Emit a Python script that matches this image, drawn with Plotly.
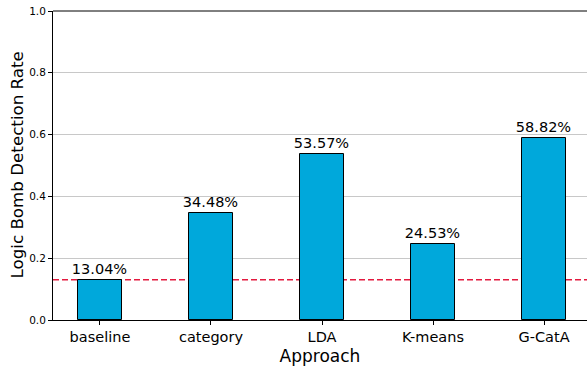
import plotly.graph_objects as go

categories = ["baseline", "category", "LDA", "K-means", "G-CatA"]
rates = [0.1304, 0.3448, 0.5357, 0.2453, 0.5882]
baseline_rate = 0.1304
y_ticks = [0.0, 0.2, 0.4, 0.6, 0.8, 1.0]

labels = [f"{v*100:.2f}%" for v in rates]
xs = list(range(len(categories)))

fig = go.Figure()
fig.add_trace(go.Bar(
    x=xs, y=rates, width=0.4,
    marker=dict(color="#00A8DB", line=dict(color="black", width=1)),
    text=labels, textposition="outside", cliponaxis=False, constraintext="none",
    textfont=dict(size=14.5, color="black", family="DejaVu Sans"),
))

fig.add_shape(type="line", xref="paper", x0=0, x1=1, yref="y", y0=baseline_rate, y1=baseline_rate,
              line=dict(color="#E31A3F", width=1.5, dash="6px,3px"), layer="below")
# top spine
fig.add_shape(type="line", xref="paper", x0=0, x1=1, yref="paper", y0=1, y1=1,
              line=dict(color="black", width=1), layer="above")

fig.add_annotation(text="Logic Bomb Detection Rate", xref="paper", yref="paper",
                   x=0, y=0.5, xanchor="center", yanchor="middle", xshift=-37,
                   textangle=-90, showarrow=False,
                   font=dict(size=16.7, family="DejaVu Sans", color="black"))

fig.update_layout(
    width=587, height=367,
    margin=dict(l=53, r=0, t=11, b=47),
    plot_bgcolor="white", paper_bgcolor="white",
    font=dict(family="DejaVu Sans", color="black"),
    showlegend=False,
    xaxis=dict(
        range=[-0.423, 4.387],
        tickmode="array", tickvals=xs, ticktext=categories,
        tickfont=dict(size=14.5),
        ticks="outside", ticklen=4, tickcolor="black",
        showline=True, linecolor="black", linewidth=1,
        showgrid=False, zeroline=False,
        title=dict(text="Approach", font=dict(size=17), standoff=5),
    ),
    yaxis=dict(
        range=[0, 1],
        tickmode="array", tickvals=y_ticks, ticktext=[f"{t:.1f}" for t in y_ticks],
        tickfont=dict(size=10.5),
        ticks="outside", ticklen=4, tickcolor="black",
        showline=True, linecolor="black", linewidth=1,
        showgrid=True, gridcolor="#C8C8C8", gridwidth=1,
        zeroline=False,
    ),
    bargap=0,
)

fig.write_html("out.html")
